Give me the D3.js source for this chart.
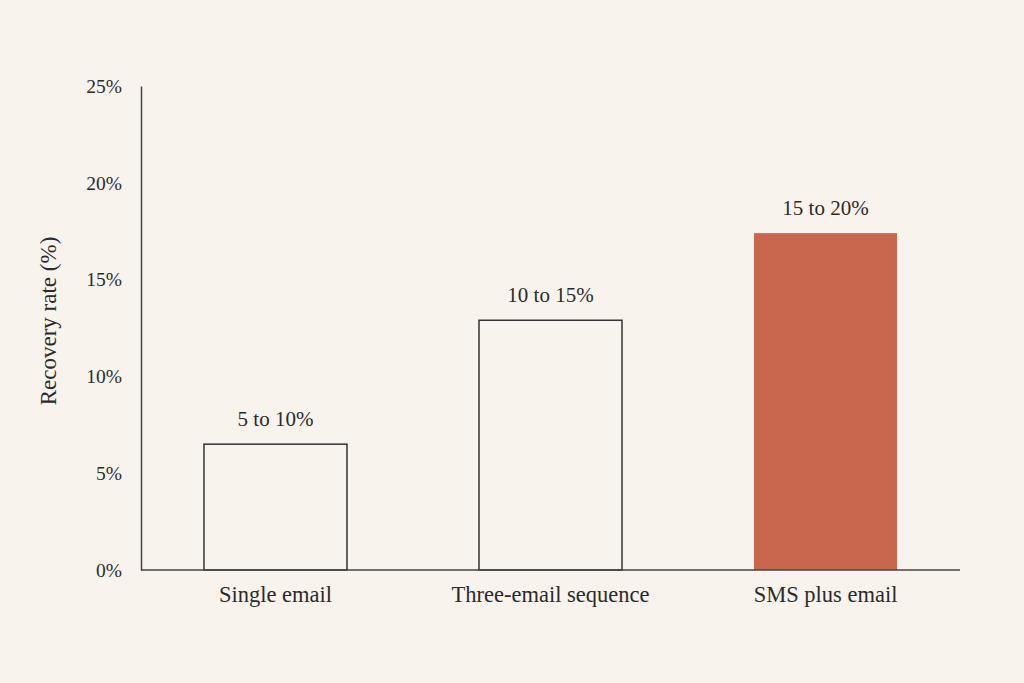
<!DOCTYPE html>
<html lang="en">
<head>
    <meta charset="UTF-8">
    <title>Recovery rate by channel</title>
    <script src="https://cdn.jsdelivr.net/npm/d3@7/dist/d3.min.js"></script>
    <style>
        body {
            margin: 0;
            background: #f8f3ed;
        }
        svg text {
            font-family: "Liberation Serif", "DejaVu Serif", serif;
            fill: #2b2b2b;
        }
    </style>
</head>
<body>
    <div id="chart"></div>
    <script>
        // values
        const categories = ["Single email", "Three-email sequence", "SMS plus email"];
        const values = [6.5, 12.9, 17.4];
        const rangeLabels = ["5 to 10%", "10 to 15%", "15 to 20%"];
        const yTicks = [0, 5, 10, 15, 20, 25];

        const width = 1024, height = 683;
        const plotLeft = 141, plotRight = 960, plotTop = 86, plotBottom = 570;

        const svg = d3.select('#chart')
            .append('svg')
            .attr('width', width)
            .attr('height', height);

        const x = d3.scaleBand()
            .domain(categories)
            .range([plotLeft, plotRight])
            .paddingInner(0.48)
            .paddingOuter(0.229);

        const y = d3.scaleLinear()
            .domain([0, 25])
            .range([plotBottom, plotTop]);

        // bars: only the last one is filled
        svg.selectAll('rect.bar')
            .data(categories)
            .enter()
            .append('rect')
            .attr('class', 'bar')
            .attr('x', d => x(d))
            .attr('y', (d, i) => y(values[i]))
            .attr('width', x.bandwidth())
            .attr('height', (d, i) => y(0) - y(values[i]))
            .attr('fill', (d, i) => i === 2 ? '#c8674e' : 'none')
            .attr('stroke', (d, i) => i === 2 ? 'none' : '#333')
            .attr('stroke-width', 1.5);

        svg.selectAll('text.range')
            .data(categories)
            .enter()
            .append('text')
            .attr('class', 'range')
            .attr('x', d => x(d) + x.bandwidth() / 2)
            .attr('y', (d, i) => y(values[i]) - 18)
            .attr('text-anchor', 'middle')
            .style('font-size', '21px')
            .text((d, i) => rangeLabels[i]);

        // y axis
        const yAxis = svg.append('g')
            .attr('transform', `translate(${plotLeft},0)`)
            .call(d3.axisLeft(y).tickValues(yTicks).tickSize(0).tickPadding(19).tickFormat(d => d + '%'));
        yAxis.select('.domain').attr('stroke', '#444').attr('stroke-width', 1.5);
        yAxis.selectAll('text').style('font-size', '19.5px');

        // x axis
        const xAxis = svg.append('g')
            .attr('transform', `translate(0,${plotBottom})`)
            .call(d3.axisBottom(x).tickSize(0).tickPadding(16));
        xAxis.select('.domain').attr('d', `M${plotLeft},0H${plotRight}`).attr('stroke', '#444').attr('stroke-width', 1.5);
        xAxis.selectAll('text').style('font-size', '22.5px');

        svg.append('text')
            .attr('transform', 'translate(56,321) rotate(-90)')
            .attr('text-anchor', 'middle')
            .style('font-size', '23px')
            .text('Recovery rate (%)');
    </script>
</body>
</html>
